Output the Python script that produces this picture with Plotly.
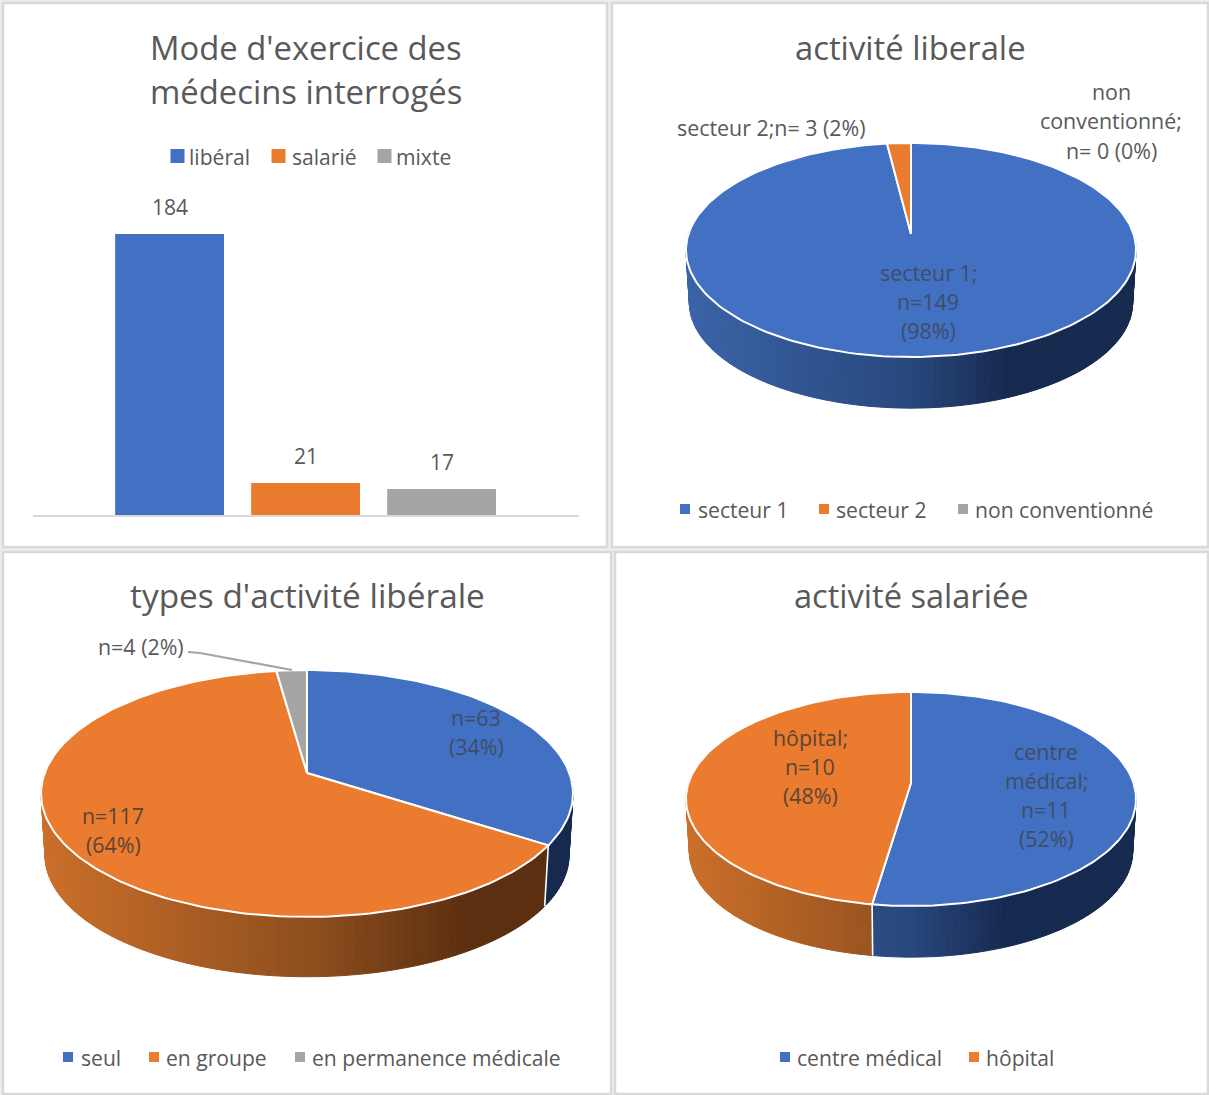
import math
import plotly.graph_objects as go

# ---- data ----
bar_categories = ["libéral", "salarié", "mixte"]
bar_values = [184, 21, 17]
bar_title = ["Mode d'exercice des", "médecins interrogés"]

secteur_categories = ["secteur 1", "secteur 2", "non conventionné"]
secteur_values = [149, 3, 0]
secteur_title = ["activité liberale"]

types_categories = ["seul", "en groupe", "en permanence médicale"]
types_values = [63, 117, 4]
types_title = ["types d'activité libérale"]

salariee_categories = ["centre médical", "hôpital"]
salariee_values = [11, 10]
salariee_title = ["activité salariée"]

BLUE, ORANGE, GREY = "#4270c2", "#ea7b2f", "#a5a5a5"
COLORS = [BLUE, ORANGE, GREY]
TXT = "#595959"
FONT = "Open Sans"
W, H = 1209, 1095

WALL = {
    BLUE: [(0, "#3a64a8"), (0.5, "#28477c"), (0.72, "#16294f"), (1, "#16294f")],
    ORANGE: [(0, "#cb6f2a"), (0.5, "#8f4f1e"), (0.8, "#5c2f10"), (1, "#5c2f10")],
    GREY: [(0, "#8a8a8a"), (1, "#4a4a4a")],
}


def mix(stops, t):
    t = max(0, min(1, t))
    for (a, ca), (b, cb) in zip(stops, stops[1:]):
        if t <= b:
            f = (t - a) / (b - a)
            va = [int(ca[i:i + 2], 16) for i in (1, 3, 5)]
            vb = [int(cb[i:i + 2], 16) for i in (1, 3, 5)]
            return "rgb(%d,%d,%d)" % tuple(round(p + (q - p) * f) for p, q in zip(va, vb))
    return stops[-1][1]


fig = go.Figure()


def project(g, theta, bottom=False):
    X, Z = math.sin(theta), math.cos(theta)
    d = 1 + g["k"] * Z
    s = 0.985 if bottom else 1
    off = g["depth"] if bottom else 0
    return (g["cx"] + s * g["a"] * X / d, g["cy"] + off - s * g["b"] * Z / d)


def poly(xs, ys, fill, line_color, line_width):
    fig.add_trace(go.Scatter(
        x=xs, y=ys, mode="lines", fill="toself", fillcolor=fill,
        line=dict(color=line_color, width=line_width),
        hoverinfo="skip", showlegend=False, xaxis="x", yaxis="y"))


def pie(values, g):
    total = sum(values)
    edges = [0.0]
    for v in values:
        edges.append(edges[-1] + 2 * math.pi * v / total)
    left = g["cx"] - g["rx"]
    # side wall
    for i, v in enumerate(values):
        if v == 0:
            continue
        t0, t1 = max(edges[i], math.radians(55)), min(edges[i + 1], math.radians(305))
        if t1 <= t0:
            continue
        n = max(2, int((t1 - t0) / math.radians(1.6)))
        for j in range(n):
            a = t0 + (t1 - t0) * j / n
            b = t0 + (t1 - t0) * (j + 1) / n
            p = [project(g, a), project(g, b), project(g, b, True), project(g, a, True)]
            c = mix(WALL[COLORS[i]], (sum(q[0] for q in p) / 4 - left) / (2 * g["rx"]))
            poly([q[0] for q in p] + [p[0][0]], [q[1] for q in p] + [p[0][1]], c, c, 1)
    # wall separators
    for e in edges[1:-1]:
        if math.radians(95) < e < math.radians(265):
            p, q = project(g, e), project(g, e, True)
            fig.add_trace(go.Scatter(x=[p[0], q[0]], y=[p[1], q[1]], mode="lines",
                                     line=dict(color="white", width=1.6),
                                     hoverinfo="skip", showlegend=False, xaxis="x", yaxis="y"))
    # top faces
    for i, v in enumerate(values):
        if v == 0:
            continue
        n = max(2, int((edges[i + 1] - edges[i]) / math.radians(1.5)))
        pts = [project(g, edges[i] + (edges[i + 1] - edges[i]) * j / n) for j in range(n + 1)]
        xs = [g["cx"]] + [q[0] for q in pts] + [g["cx"]]
        ys = [g["cy"]] + [q[1] for q in pts] + [g["cy"]]
        poly(xs, ys, COLORS[i], "white", 2)


def text(s, x, y, size=21, color=TXT, anchor="center"):
    fig.add_annotation(text=s, x=x, y=y, xref="x", yref="y", showarrow=False,
                       xanchor=anchor, yanchor="middle",
                       font=dict(family=FONT, size=size, color=color))


def block(lines, x, y0, step, size=21.4, color=TXT):
    for i, s in enumerate(lines):
        text(s, x, y0 + i * step, size, color)


def legend(cats, marker_x, text_x, y, size):
    for i, c in enumerate(cats):
        fig.add_trace(go.Scatter(x=[marker_x[i]], y=[y], mode="markers",
                                 marker=dict(symbol="square", size=size, color=COLORS[i]),
                                 hoverinfo="skip", showlegend=False, xaxis="x", yaxis="y"))
        text(c, text_x[i], y, 21.1, TXT, "left")


# panel frames
for x0, y0, x1, y1 in [(3, 3, 607, 547), (612, 3, 1208, 547),
                       (3, 552, 611, 1094), (615, 552, 1208, 1094)]:
    fig.add_shape(type="rect", xref="x", yref="y", x0=x0, y0=y0, x1=x1, y1=y1,
                  line=dict(color="#d9d9d9", width=2.5), fillcolor="white", layer="below")

# bar chart
fig.add_trace(go.Bar(x=bar_categories, y=bar_values, marker=dict(color=COLORS, line_width=0),
                     width=0.8, hoverinfo="skip", showlegend=False, xaxis="x2", yaxis="y2"))
for c, v in zip(bar_categories, bar_values):
    fig.add_annotation(text=str(v), x=c, y=v, xref="x2", yref="y2", yshift=11, yanchor="bottom",
                       showarrow=False, font=dict(family=FONT, size=21, color=TXT))

# pies
pie(secteur_values, dict(cx=911, cy=234, k=0.1495, a=222.5, b=104.6, rx=225, depth=53))
pie(types_values, dict(cx=307, cy=773, k=0.166, a=262.3, b=120, rx=266, depth=62))
pie(salariee_values, dict(cx=911, cy=783, k=0.1495, a=222.5, b=104.6, rx=225, depth=53))

# leader line
fig.add_trace(go.Scatter(x=[188, 200, 292], y=[652, 653, 670], mode="lines",
                         line=dict(color=GREY, width=2.2), hoverinfo="skip",
                         showlegend=False, xaxis="x", yaxis="y"))

# titles
block(bar_title, 306, 47, 44, 32.8)
block(secteur_title, 910, 47, 44, 32.8)
block(types_title, 307.5, 595, 44, 33.4)
block(salariee_title, 911, 595, 44, 32.6)

# data labels
ON_BLUE, ON_ORANGE = "#3f4d69", "#5a4537"
block(["secteur 2;n= 3 (2%)"], 771, 127, 29.5)
block(["non", "conventionné;", "n= 0 (0%)"], 1111, 91, 29.5)
block(["secteur 1;", "n=149", "(98%)"], 928, 272, 29.2, color=ON_BLUE)
block(["n=4 (2%)"], 141, 646, 29.5)
block(["n=63", "(34%)"], 476, 717, 29.5, color=ON_BLUE)
block(["n=117", "(64%)"], 113, 815, 29, color=ON_ORANGE)
block(["centre", "médical;", "n=11", "(52%)"], 1046, 751, 29, color=ON_BLUE)
block(["hôpital;", "n=10", "(48%)"], 810, 737, 29, color=ON_ORANGE)

# legends
legend(bar_categories, [177.5, 278.5, 384.5], [187, 290, 394], 156, 14)
legend(secteur_categories, [685, 824, 963], [696, 834, 973], 509, 10)
legend(types_categories, [68, 154, 300], [79, 164, 310], 1057, 10)
legend(salariee_categories, [785, 974], [795, 984], 1057, 10)

hidden = dict(visible=False, fixedrange=True)
fig.update_layout(
    width=W, height=H, autosize=False, margin=dict(l=0, r=0, t=0, b=0),
    paper_bgcolor="#ececec", plot_bgcolor="rgba(0,0,0,0)", showlegend=False,
    xaxis=dict(range=[0, W], domain=[0, 1], **hidden),
    yaxis=dict(range=[H, 0], domain=[0, 1], **hidden),
    xaxis2=dict(domain=[33 / W, 579 / W], range=[-1.004, 3.01], type="category", anchor="y2",
                showticklabels=False, ticks="", showline=True, linecolor="#d9d9d9",
                linewidth=2, showgrid=False, zeroline=False, fixedrange=True),
    yaxis2=dict(domain=[1 - 515 / H, 1 - 205 / H], range=[0, 310 / 1.527],
                anchor="x2", visible=False, fixedrange=True),
)
fig.write_html("out.html", config=dict(displayModeBar=False),
               post_script="document.body.style.margin='0';document.body.style.overflow='hidden';")
